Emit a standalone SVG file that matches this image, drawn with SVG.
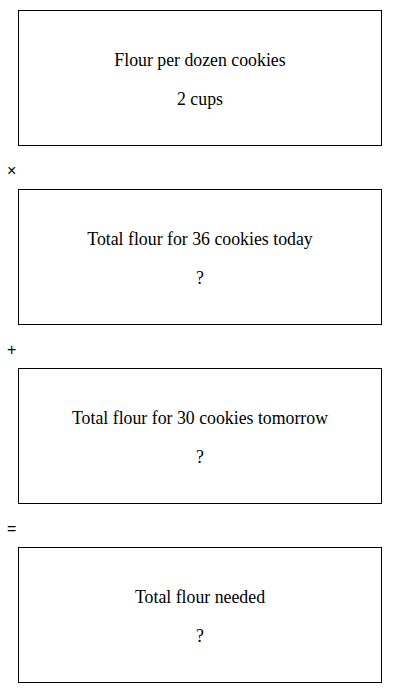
<svg xmlns="http://www.w3.org/2000/svg" width="400" height="693" viewBox="0 0 400 693">
<style>
.box{fill:#fff;stroke:#000;stroke-width:1}
.t{font-family:"Liberation Serif","Times New Roman",serif;font-size:17.8px;fill:#000;text-anchor:middle}
.op{font-family:"Liberation Sans",Arial,sans-serif;font-size:16px;fill:#000}
</style>
<rect width="400" height="693" fill="#fff"/>
<g id="node1">
<rect class="box" x="18.5" y="10.5" width="363" height="135"/>
<text class="t" x="200" y="65.5">Flour per dozen cookies</text>
<text class="t" x="200" y="104.5">2 cups</text>
</g>
<g id="node2">
<rect class="box" x="18.5" y="189.5" width="363" height="135"/>
<text class="t" x="200" y="244.5">Total flour for 36 cookies today</text>
<text class="t" x="200" y="283.5">?</text>
</g>
<g id="node3">
<rect class="box" x="18.5" y="368.5" width="363" height="135"/>
<text class="t" x="200" y="423.5">Total flour for 30 cookies tomorrow</text>
<text class="t" x="200" y="462.5">?</text>
</g>
<g id="node4">
<rect class="box" x="18.5" y="547.5" width="363" height="135"/>
<text class="t" x="200" y="602.5">Total flour needed</text>
<text class="t" x="200" y="641.5">?</text>
</g>
<g id="connectors">
<text class="op" x="7" y="176">×</text>
<text class="op" x="7" y="355">+</text>
<text class="op" x="7" y="534">=</text>
</g>
</svg>
